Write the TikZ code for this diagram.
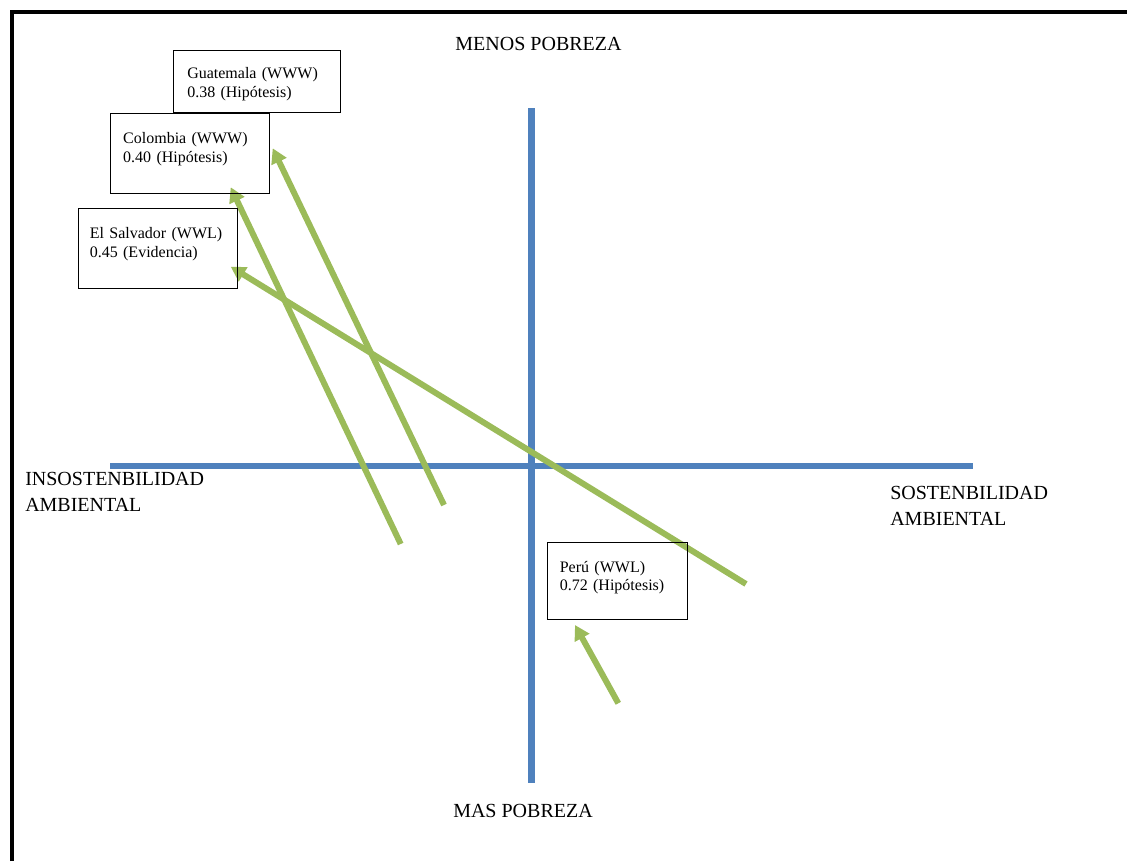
\documentclass[tikz,border=0pt]{standalone}
\usepackage{fontspec}
\setmainfont{Liberation Serif}
\usetikzlibrary{arrows.meta}

\definecolor{axisblue}{HTML}{4F81BD}
\definecolor{trendgreen}{HTML}{9BBB59}

\tikzset{
  axisline/.style={line width=4.9pt, color=axisblue},
  trend/.style={line width=4.5pt, color=trendgreen, -{Triangle[length=11pt,width=12pt]}},
  country/.style={draw, line width=0.8pt, anchor=north west, inner ysep=0pt, align=left,
    font=\fontsize{12}{13.8}\selectfont},
  pole/.style={inner sep=0pt, align=left, font=\fontsize{15}{20}\selectfont},
}

\begin{document}
\begin{tikzpicture}[x=0.75pt, y=-0.75pt]
\useasboundingbox (0,0) rectangle (1127,861);

\draw[line width=3pt] (12,861) -- (12,12) -- (1127,12);

\draw[axisline] (110,466) -- (973,466);
\draw[axisline] (531.5,108) -- (531.5,783);

\node[pole, anchor=base] (menos) at (538.5,50) {MENOS POBREZA};
\node[pole, anchor=base] (mas) at (523,817) {MAS POBREZA};
\node[pole, anchor=base west, text width=150pt] (insost) at (25,485) {INSOSTENBILIDAD\\AMBIENTAL};
\node[pole, anchor=base west, text width=150pt] (sost) at (890,499) {SOSTENBILIDAD\\AMBIENTAL};

\coordinate (guaTail) at (444,505);
\coordinate (guaHead) at (272.7,148.3);
\coordinate (colTail) at (400.7,544);
\coordinate (colHead) at (230.7,187.3);
\coordinate (salTail) at (746,584);
\coordinate (salHead) at (230.7,266.7);
\coordinate (perTail) at (618.3,703.3);
\coordinate (perHead) at (575,625);

\draw[trend] (guaTail) -- (guaHead);
\draw[trend] (colTail) -- (colHead);
\draw[trend] (salTail) -- (salHead);
\draw[trend] (perTail) -- (perHead);

\node[country, inner xsep=10.3pt, text width=104.65pt, text height=21.2pt, text depth=25.3pt]
  (guatemala) at (173,50) {Guatemala (WWW)\\0.38 (Hipótesis)};
\node[country, inner xsep=9.5pt, text width=100.25pt, text height=22.95pt, text depth=37.5pt]
  (colombia) at (110,112.7) {Colombia (WWW)\\0.40 (Hipótesis)};
\node[country, inner xsep=8.25pt, text width=102.3pt, text height=22.5pt, text depth=37.5pt]
  (salvador) at (78.3,208.3) {El Salvador (WWL)\\0.45 (Evidencia)};
\node[country, inner xsep=9pt, text width=86.55pt, text height=22.5pt, text depth=35.5pt]
  (peru) at (547.3,541.7) {Perú (WWL)\\0.72 (Hipótesis)};
\end{tikzpicture}
\end{document}
